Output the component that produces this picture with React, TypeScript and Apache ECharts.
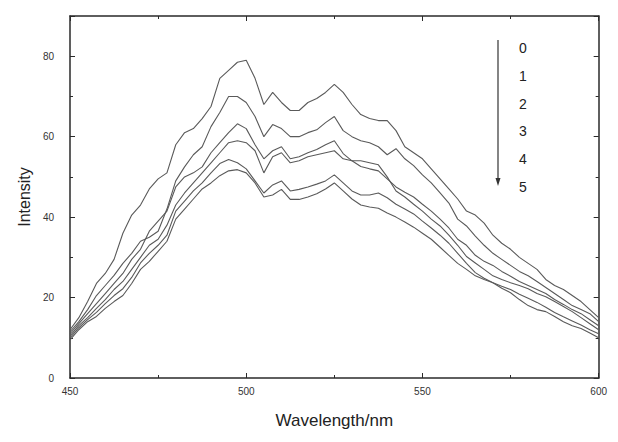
import React, { useEffect, useRef } from "react";
import * as echarts from "echarts";

const wavelengths: number[] = [];
for (let w = 450; w <= 600.001; w += 2.5) wavelengths.push(Math.round(w * 10) / 10);

const seriesNames = ["0", "1", "2", "3", "4", "5"];

const curve0 = [12, 15, 19, 23.5, 26, 29.5, 36, 40.5, 43, 47, 49.5, 51, 58, 61, 62, 64.5, 67.5, 74.5, 76.5, 78.5, 79, 74.5, 68, 71, 68.5, 66.5, 66.5, 68.5, 69.5, 71, 73, 71, 68, 65.5, 64.5, 64, 64, 61.5, 57.5, 56, 54.5, 52, 49.5, 47, 44.5, 41.5, 40.5, 38.5, 35.5, 33.5, 32, 30, 28.5, 27, 24.5, 23, 22, 20.5, 19, 17, 15];
const curve1 = [11.5, 14, 17, 20.5, 23, 25.5, 28.5, 31, 34, 35, 36.5, 42, 49, 52.5, 55.5, 57.5, 62.5, 66, 70, 70, 68.5, 65, 60, 63, 62, 60, 60, 61, 61.7, 63.5, 65, 61.5, 60, 59, 58.5, 57.5, 55.5, 57, 54.5, 52.8, 50.5, 48.5, 46, 43.5, 39.5, 37.8, 35.3, 33, 31, 29.5, 28, 26.5, 25.4, 24, 22.5, 21, 19.5, 18, 17, 16, 14];
const curve2 = [11, 13.5, 16, 18.5, 21, 23.5, 26, 29.5, 32, 36.5, 39, 41.5, 47.5, 50, 51, 52.5, 56, 58.5, 61, 63.2, 62, 58, 54.5, 56.5, 57.5, 54.5, 55, 56, 56.8, 58, 59, 55.8, 54, 52.6, 52, 51.5, 49.5, 47.5, 46.2, 45, 43.2, 41.5, 39.5, 37.3, 34.5, 33, 30.5, 29, 28, 26.5, 25.3, 24, 23, 22, 21, 19.5, 18.3, 17, 16, 14.5, 13];
const curve3 = [10.5, 13, 15, 17.3, 19.5, 22, 24, 27, 30, 33, 34.5, 38, 43, 46, 48.5, 51, 53.5, 56, 58.5, 59, 58.5, 56.5, 51, 55, 56, 53.5, 54, 55, 55.5, 56, 56.5, 54.5, 54, 54, 53.5, 53, 50, 46.5, 45, 43.2, 41.5, 39.5, 37.8, 35.5, 33, 30.2, 28.6, 27, 25.4, 24.5, 23.7, 23, 22.2, 21, 20.2, 19, 17.8, 16.5, 15, 13.5, 12];
const curve4 = [10, 12.5, 14.5, 16.3, 18.5, 20.5, 22.2, 25, 28.6, 31, 33, 35.5, 41.5, 44, 46.5, 48.5, 51, 53.3, 54.3, 53.5, 52, 49, 46, 48, 49, 46.5, 46.9, 47.5, 48.2, 49, 50.5, 48.5, 46.5, 45.5, 45.5, 46, 44.8, 43.2, 42, 40.8, 39, 37.3, 35.5, 33.5, 31, 28.5, 26.2, 24.8, 23.7, 22.8, 22, 20.8, 19.8, 18.8, 17.6, 16.3, 15.2, 14.2, 13.2, 12, 11];
const curve5 = [9.5, 12, 14, 15.3, 17.3, 19, 20.5, 23.5, 27, 29, 31.5, 34, 39.5, 42, 44.5, 47, 48.5, 50.3, 51.5, 51.8, 51, 48.5, 45, 45.5, 46.9, 44.4, 44.4, 45, 45.8, 47, 48.5, 46.5, 44.5, 43, 42.5, 42.2, 41, 40, 38.8, 37.5, 36, 34.5, 32.5, 30.5, 28.5, 27, 25.4, 24.5, 23.7, 22.3, 21.2, 19.5, 18, 17, 16.5, 15.3, 14, 13, 12.3, 11.2, 10];

const curves = [curve0, curve1, curve2, curve3, curve4, curve5];

const xTicks = [450, 500, 550, 600];
const yTicks = [0, 20, 40, 60, 80];

const FONT = "'Liberation Sans', Arial, sans-serif";
const AXIS_COLOR = "#2a2a2a";
const LINE_COLOR = "#5a5a5a";

export default function App() {
  const ref = useRef<HTMLDivElement>(null);
  useEffect(() => {
    if (!ref.current) return;
    const chart = echarts.init(ref.current, undefined, { renderer: "svg" });
    const axisCommon = {
      axisLine: { show: true, onZero: false, lineStyle: { color: AXIS_COLOR, width: 1.5 } },
      axisTick: { show: true, inside: true, length: 5, lineStyle: { color: AXIS_COLOR, width: 1 } },
      minorTick: { show: true, splitNumber: 2, length: 3, lineStyle: { color: AXIS_COLOR, width: 1 } },
      splitLine: { show: false },
    };
    const legendTop = 32;
    const legendStep = 27.8;
    const graphics: any[] = [
      {
        type: "line",
        shape: { x1: 490, y1: 32, x2: 490, y2: 172 },
        style: { stroke: "#333", lineWidth: 1.2 },
      },
      {
        type: "polygon",
        shape: { points: [[487.5, 170], [492.5, 170], [490, 178]] },
        style: { fill: "#333" },
      },
    ];
    seriesNames.forEach((n, i) => {
      graphics.push({
        type: "text",
        x: 515,
        y: legendTop + 8 + i * legendStep,
        style: {
          text: n,
          font: `14px ${FONT}`,
          fill: "#222",
          textAlign: "center",
          textVerticalAlign: "middle",
        },
      });
    });
    chart.setOption({
      animation: false,
      backgroundColor: "#ffffff",
      grid: { left: 61, right: 2, top: 8, bottom: 51, containLabel: false },
      xAxis: [
        {
          ...axisCommon,
          type: "value",
          min: xTicks[0],
          max: xTicks[xTicks.length - 1],
          interval: 50,
          position: "bottom",
          name: "Wavelength/nm",
          nameLocation: "middle",
          nameGap: 34,
          nameTextStyle: { fontFamily: FONT, fontSize: 17, color: "#222" },
          axisLabel: { fontFamily: FONT, fontSize: 10, color: "#333", margin: 8 },
        },
        {
          ...axisCommon,
          type: "value",
          min: xTicks[0],
          max: xTicks[xTicks.length - 1],
          interval: 50,
          position: "top",
          axisLabel: { show: false },
        },
      ],
      yAxis: [
        {
          ...axisCommon,
          type: "value",
          min: yTicks[0],
          max: 90,
          interval: 20,
          position: "left",
          name: "Intensity",
          nameLocation: "middle",
          nameGap: 37,
          nameTextStyle: { fontFamily: FONT, fontSize: 16, color: "#222" },
          axisLabel: { fontFamily: FONT, fontSize: 10, color: "#333", margin: 16, showMaxLabel: false },
        },
        {
          ...axisCommon,
          type: "value",
          min: yTicks[0],
          max: 90,
          interval: 20,
          position: "right",
          axisLabel: { show: false },
        },
      ],
      graphic: graphics,
      series: curves.map((c, i) => ({
        name: seriesNames[i],
        type: "line",
        xAxisIndex: 0,
        yAxisIndex: 0,
        showSymbol: false,
        symbol: "none",
        data: wavelengths.map((w, j) => [w, c[j]]),
        lineStyle: { color: LINE_COLOR, width: 1.1 },
        silent: true,
      })),
    });
    return () => chart.dispose();
  }, []);
  return <div ref={ref} style={{ width: 602, height: 426 }} />;
}
